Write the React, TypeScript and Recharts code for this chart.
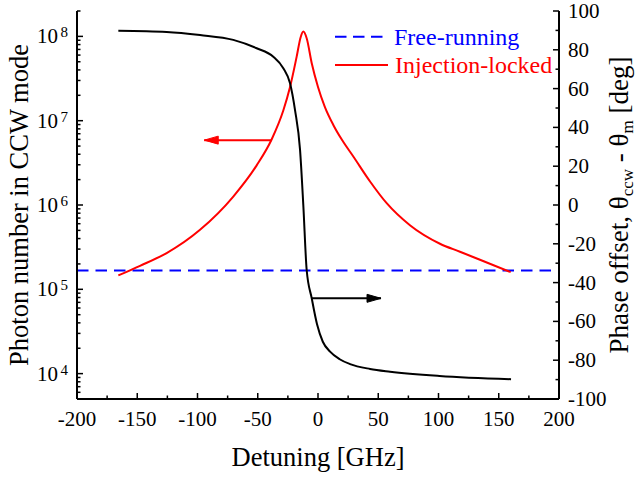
import React from "react";
import { LineChart, Line, XAxis, YAxis, Legend } from "recharts";

// ---- data ----
const redX = [-165.7, -147.7, -125.6, -97.9, -70.3, -50.9, -38.4, -28.8, -23.2, -17.7, -14.4, -12.2, -9.4, -5.2, 0, 5.5, 12.7, 20, 29.3, 43.2, 57, 76.3, 101.2, 117.8, 134.4, 159.9];
const redN = [1.46e5, 1.9e5, 2.69e5, 5.08e5, 1.26e6, 2.95e6, 6.03e6, 1.32e7, 2.51e7, 5.75e7, 9.77e7, 1.14e8, 9.5e7, 4.8e7, 2.51e7, 1.48e7, 8.91e6, 5.89e6, 3.76e6, 1.9e6, 1.05e6, 5.75e5, 3.47e5, 2.79e5, 2.24e5, 1.6e5];

const blackX = [-165.7, -125.6, -97.9, -70.3, -50.9, -37.1, -28.8, -23.2, -19.1, -14.9, -12.2, -9.4, -5.2, -0.8, 4, 10, 18, 26.6, 43.2, 59.8, 100.8, 160.2];
const blackDeg = [89.8, 89.2, 87.6, 85.1, 80.8, 76.4, 70.5, 62.7, 49.0, 28.4, 0, -33.5, -48.1, -61.5, -70.5, -75.6, -79.5, -82.0, -84.5, -85.9, -88.1, -89.8];

const freeX = [-200, 200];
const freeN = [1.67e5, 1.67e5];

const redArrowX = [-38.4, -94.4];
const redArrowN = [5.88e6, 5.88e6];
const blackArrowX = [-5.2, 52.3];
const blackArrowDeg = [-48.1, -48.1];

const xTicks = [-200, -175, -150, -125, -100, -75, -50, -25, 0, 25, 50, 75, 100, 125, 150, 175, 200];
const xLabelStep = 50;
const rightTicks = [-100, -90, -80, -70, -60, -50, -40, -30, -20, -10, 0, 10, 20, 30, 40, 50, 60, 70, 80, 90, 100];
const rightLabelStep = 20;
const logDecades = [3, 4, 5, 6, 7, 8];
const logMantissas = [1, 2, 3, 4, 5, 6, 7, 8, 9];
const logDomain = [5000, 2e8];

const legendNames = ["Free-running", "Injection-locked"];

// ---- layout ----
const W = 638;
const H = 478;
const LEFT_W = 77;
const RIGHT_W = 79;
const TOP = 11;
const BOTTOM_H = 79;
const PLOT_W = W - LEFT_W - RIGHT_W;
const PLOT_H = H - TOP - BOTTOM_H;
const FONT = "'Liberation Serif', 'Times New Roman', serif";
const TICK_FS = 21;
const TITLE_FS = 26.5;

const zip = (xs: number[], ys: number[]) => xs.map((x, i) => ({ x, y: ys[i] }));
const redData = zip(redX, redN);
const blackData = zip(blackX, blackDeg);
const freeData = zip(freeX, freeN);
const redArrowData = zip(redArrowX, redArrowN);
const blackArrowData = zip(blackArrowX, blackArrowDeg);

const leftTicks: number[] = [];
logDecades.forEach((d) =>
  logMantissas.forEach((m) => {
    const v = m * Math.pow(10, d);
    if (v >= logDomain[0] - 1e-6 && v <= logDomain[1] + 1e-6) leftTicks.push(v);
  })
);

const XTickBottom = (p: any) => {
  const { x, y, payload } = p;
  const v = payload.value;
  const major = Math.abs(v % xLabelStep) < 1e-9;
  return (
    <g>
      <line x1={x} x2={x} y1={y} y2={y - (major ? 6 : 3.5)} stroke="#000" strokeWidth={1.5} />
      {major && (
        <text x={x} y={y + 27} textAnchor="middle" fontFamily={FONT} fontSize={TICK_FS} fill="#000">
          {v}
        </text>
      )}
    </g>
  );
};

const XTickTop = (p: any) => {
  const { x, y, payload } = p;
  const v = payload.value;
  const major = Math.abs(v % xLabelStep) < 1e-9;
  return <line x1={x} x2={x} y1={y} y2={y + (major ? 6 : 3.5)} stroke="#000" strokeWidth={1.5} />;
};

const LeftTick = (p: any) => {
  const { x, y, payload } = p;
  const v = payload.value;
  const e = Math.round(Math.log10(v));
  const major = Math.abs(Math.log10(v) - e) < 1e-6;
  return (
    <g>
      <line x1={x} x2={x + (major ? 6 : 3.5)} y1={y} y2={y} stroke="#000" strokeWidth={1.5} />
      {major && (
        <text x={x - 19} y={y + 7} textAnchor="end" fontFamily={FONT} fontSize={TICK_FS} fill="#000">
          10
        </text>
      )}
      {major && (
        <text x={x - 9} y={y + 1} textAnchor="end" fontFamily={FONT} fontSize={15} fill="#000">
          {e}
        </text>
      )}
    </g>
  );
};

const RightTick = (p: any) => {
  const { x, y, payload } = p;
  const v = payload.value;
  const major = Math.abs(v % rightLabelStep) < 1e-9;
  return (
    <g>
      <line x1={x} x2={x - (major ? 6 : 3.5)} y1={y} y2={y} stroke="#000" strokeWidth={1.5} />
      {major && (
        <text x={x + 9} y={y + 7} textAnchor="start" fontFamily={FONT} fontSize={TICK_FS} fill="#000">
          {v}
        </text>
      )}
    </g>
  );
};

const XTitle = () => (
  <text x={LEFT_W + PLOT_W / 2} y={TOP + PLOT_H + 67} textAnchor="middle" fontFamily={FONT} fontSize={TITLE_FS} fill="#000">
    Detuning [GHz]
  </text>
);

const LeftTitle = () => {
  const cx = 28;
  const cy = TOP + PLOT_H / 2;
  return (
    <text x={cx} y={cy} transform={`rotate(-90 ${cx} ${cy})`} textAnchor="middle" fontFamily={FONT} fontSize={TITLE_FS} fill="#000">
      Photon number in CCW mode
    </text>
  );
};

const RightTitle = () => {
  const cx = W - 10;
  const cy = TOP + PLOT_H / 2;
  return (
    <text x={cx} y={cy} transform={`rotate(-90 ${cx} ${cy})`} textAnchor="middle" fontFamily={FONT} fontSize={27} fill="#000">
      Phase offset, θ
      <tspan dy={5} fontSize={17}>ccw</tspan>
      <tspan dy={-5}> - θ</tspan>
      <tspan dy={5} fontSize={17}>m</tspan>
      <tspan dy={-5}> [deg]</tspan>
    </text>
  );
};

const ArrowHead = (dir: number, color: string) => (p: any) => {
  const { cx, cy, index } = p;
  if (index !== 1 || cx == null) return <g key={`a${index}`} />;
  const L = 14;
  const h = 4;
  const d = `M${cx},${cy} L${cx - dir * L},${cy - h} L${cx - dir * L},${cy + h} Z`;
  return <path key={`a${index}`} d={d} fill={color} stroke={color} strokeWidth={1} />;
};

const LegendBox = () => (
  <svg width={260} height={70} style={{ display: "block", overflow: "visible" }}>
    <line x1={5} x2={53} y1={18.7} y2={18.7} stroke="#0000ff" strokeWidth={2} strokeDasharray="11.5 6.5" />
    <text x={64} y={27} fontFamily={FONT} fontSize={24} fill="#0000ff">
      {legendNames[0]}
    </text>
    <line x1={5} x2={58} y1={47} y2={47} stroke="#ff0000" strokeWidth={2} />
    <text x={65} y={55.3} fontFamily={FONT} fontSize={24} fill="#ff0000">
      {legendNames[1]}
    </text>
  </svg>
);

export default function App() {
  return (
    <div style={{ position: "absolute", left: 0, top: 0, width: W, height: H, background: "#fff" }}>
      <LineChart width={W} height={H} margin={{ top: TOP, right: 0, bottom: 0, left: 0 }}>
        <XAxis
          xAxisId="b"
          dataKey="x"
          type="number"
          domain={[-200, 200]}
          ticks={xTicks}
          interval={0}
          orientation="bottom"
          height={BOTTOM_H}
          tickSize={0}
          tickMargin={0}
          tickLine={false}
          axisLine={{ stroke: "#000", strokeWidth: 2 }}
          tick={<XTickBottom />}
          allowDataOverflow
          label={{ content: () => <XTitle /> }}
        />
        <XAxis
          xAxisId="t"
          dataKey="x"
          type="number"
          domain={[-200, 200]}
          ticks={xTicks}
          interval={0}
          orientation="top"
          height={0}
          tickSize={0}
          tickMargin={0}
          tickLine={false}
          axisLine={{ stroke: "#000", strokeWidth: 2 }}
          tick={<XTickTop />}
          allowDataOverflow
        />
        <YAxis
          yAxisId="l"
          type="number"
          scale="log"
          domain={logDomain}
          ticks={leftTicks}
          interval={0}
          orientation="left"
          width={LEFT_W}
          tickSize={0}
          tickMargin={0}
          tickLine={false}
          axisLine={{ stroke: "#000", strokeWidth: 2 }}
          tick={<LeftTick />}
          allowDataOverflow
          label={{ content: () => <LeftTitle /> }}
        />
        <YAxis
          yAxisId="r"
          type="number"
          domain={[-100, 100]}
          ticks={rightTicks}
          interval={0}
          orientation="right"
          width={RIGHT_W}
          tickSize={0}
          tickMargin={0}
          tickLine={false}
          axisLine={{ stroke: "#000", strokeWidth: 2 }}
          tick={<RightTick />}
          allowDataOverflow
          label={{ content: () => <RightTitle /> }}
        />
        <Line xAxisId="b" yAxisId="l" data={freeData} dataKey="y" type="linear" stroke="#0000ff" strokeWidth={2} strokeDasharray="11.5 7" dot={false} isAnimationActive={false} name={legendNames[0]} />
        <Line xAxisId="b" yAxisId="l" data={redData} dataKey="y" type="monotone" stroke="#ff0000" strokeWidth={2} dot={false} isAnimationActive={false} name={legendNames[1]} />
        <Line xAxisId="b" yAxisId="r" data={blackData} dataKey="y" type="monotone" stroke="#000" strokeWidth={2} dot={false} isAnimationActive={false} legendType="none" />
        <Line xAxisId="b" yAxisId="l" data={redArrowData} dataKey="y" type="linear" stroke="#ff0000" strokeWidth={2} dot={ArrowHead(-1, "#ff0000")} isAnimationActive={false} legendType="none" />
        <Line xAxisId="b" yAxisId="r" data={blackArrowData} dataKey="y" type="linear" stroke="#000" strokeWidth={2} dot={ArrowHead(1, "#000")} isAnimationActive={false} legendType="none" />
        <Legend
          layout="vertical"
          align="center"
          verticalAlign="middle"
          content={() => <LegendBox />}
          wrapperStyle={{ position: "absolute", left: 330, top: 18, width: 260, height: 70 }}
        />
      </LineChart>
    </div>
  );
}
